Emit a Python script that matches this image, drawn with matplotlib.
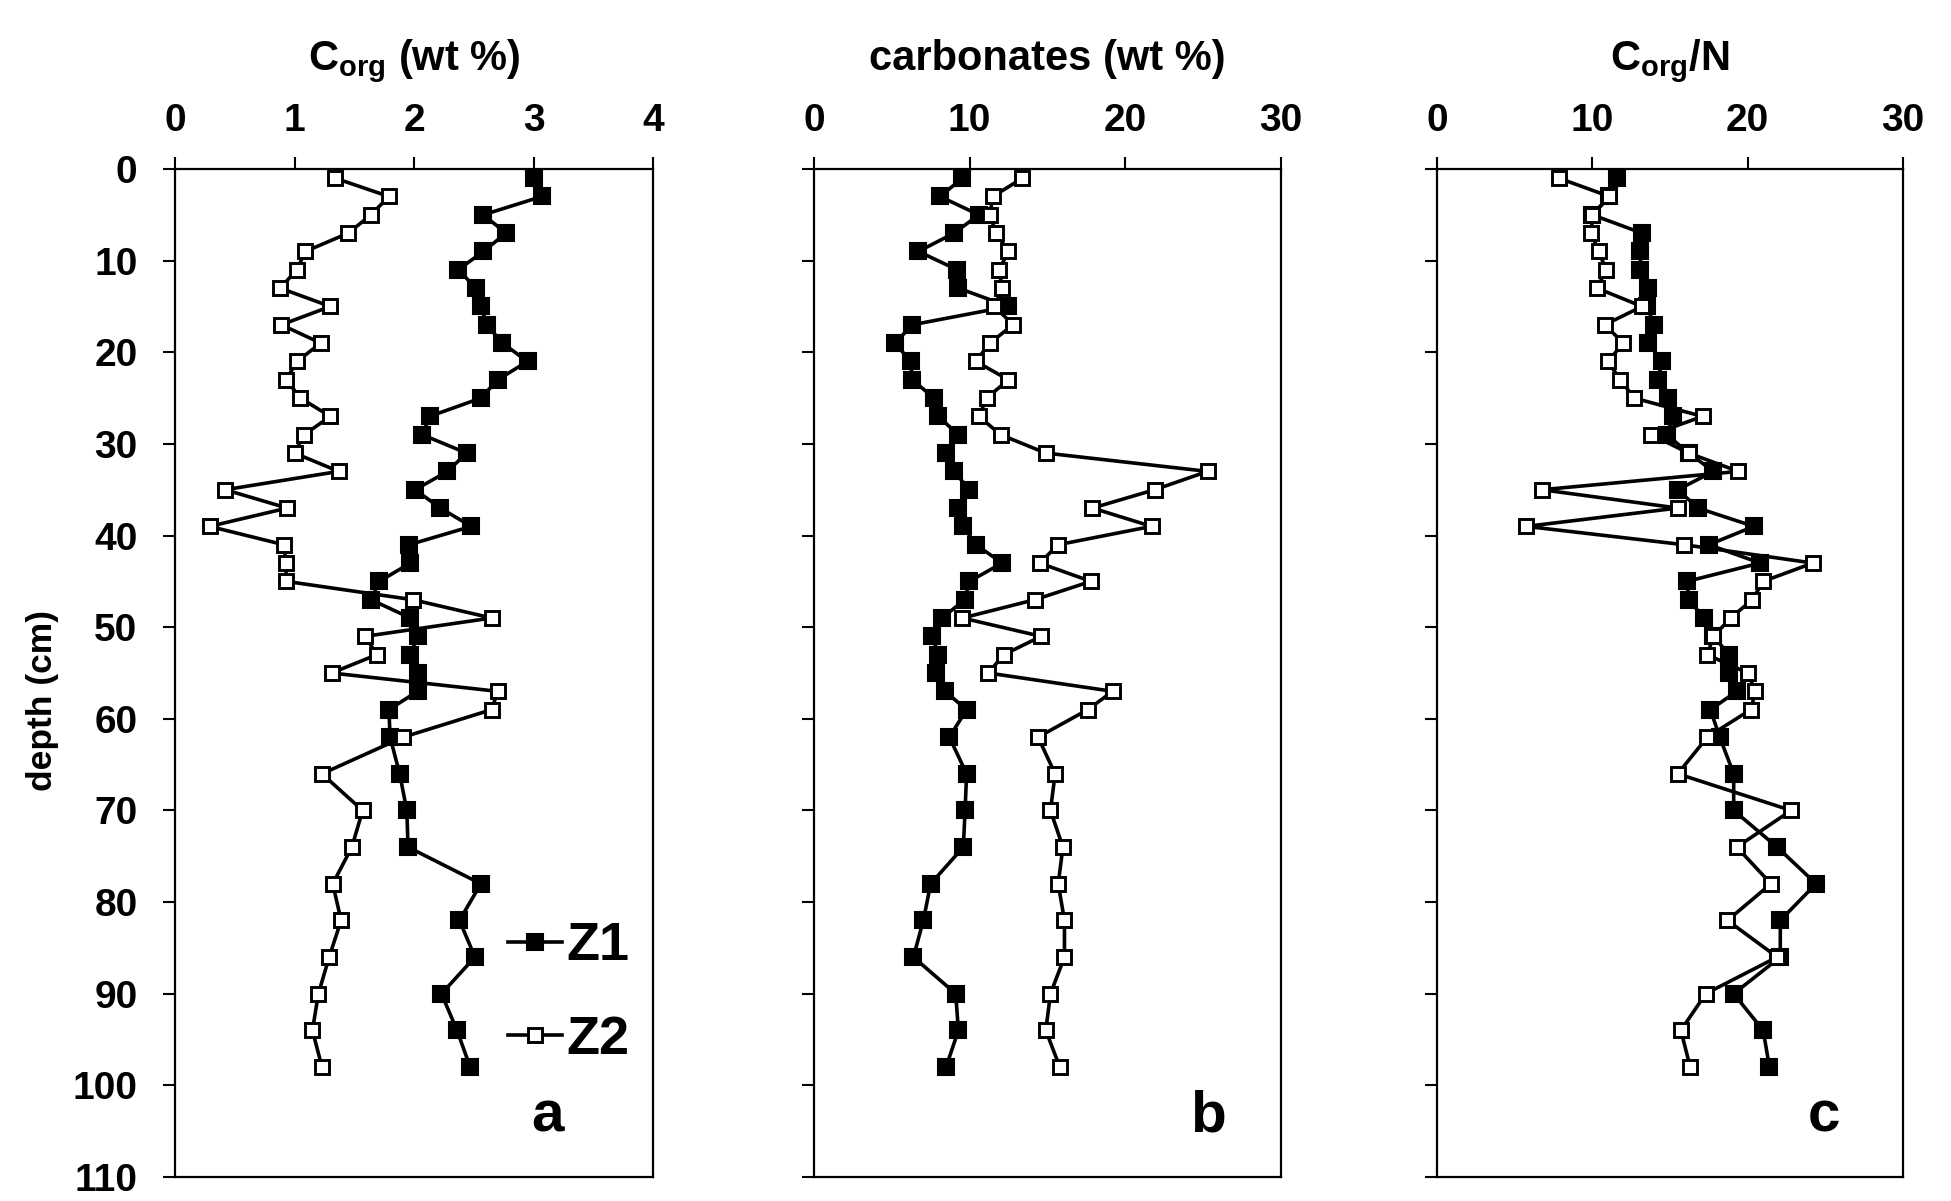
import matplotlib
matplotlib.use("Agg")
import matplotlib.pyplot as plt

# ---- core depth profiles (depth in cm) ----
depth = [1, 3, 5, 7, 9, 11, 13, 15, 17, 19, 21, 23, 25, 27, 29, 31, 33, 35, 37, 39,
         41, 43, 45, 47, 49, 51, 53, 55, 57, 59, 62, 66, 70, 74, 78, 82, 86, 90, 94, 98]

corg_z1 = [3.00, 3.07, 2.58, 2.77, 2.58, 2.37, 2.52, 2.56, 2.61, 2.74, 2.95, 2.70, 2.56, 2.13,
           2.07, 2.44, 2.28, 2.01, 2.22, 2.48, 1.96, 1.97, 1.71, 1.64, 1.97, 2.03, 1.97, 2.03,
           2.03, 1.79, 1.80, 1.88, 1.94, 1.95, 2.56, 2.38, 2.51, 2.23, 2.36, 2.47]
corg_z2 = [1.34, 1.79, 1.64, 1.45, 1.09, 1.02, 0.88, 1.30, 0.89, 1.22, 1.02, 0.93, 1.05, 1.30,
           1.08, 1.00, 1.37, 0.42, 0.94, 0.29, 0.91, 0.93, 0.93, 1.99, 2.65, 1.59, 1.69, 1.31,
           2.70, 2.65, 1.91, 1.23, 1.57, 1.48, 1.32, 1.39, 1.29, 1.20, 1.15, 1.23]

carb_z1 = [9.54, 8.10, 10.6, 9.0, 6.71, 9.21, 9.28, 12.5, 6.32, 5.21, 6.21, 6.32, 7.71, 7.99,
           9.28, 8.49, 9.0, 9.99, 9.28, 9.6, 10.4, 12.1, 9.99, 9.71, 8.21, 7.61, 7.99, 7.82,
           8.42, 9.81, 8.70, 9.81, 9.71, 9.6, 7.50, 7.03, 6.39, 9.11, 9.28, 8.49]
carb_z2 = [13.4, 11.5, 11.3, 11.7, 12.5, 11.9, 12.1, 11.6, 12.8, 11.3, 10.4, 12.5, 11.1, 10.6,
           12.0, 14.9, 25.3, 21.9, 17.9, 21.7, 15.7, 14.5, 17.8, 14.2, 9.54, 14.6, 12.2, 11.2,
           19.2, 17.6, 14.4, 15.5, 15.2, 16.0, 15.7, 16.1, 16.1, 15.2, 14.9, 15.8]

cn_z1 = [11.6, 11.1, 10.0, 13.2, 13.1, 13.1, 13.6, 13.5, 14.0, 13.6, 14.5, 14.2, 14.9, 15.2,
         14.8, 16.2, 17.8, 15.5, 16.8, 20.4, 17.5, 20.8, 16.1, 16.2, 17.2, 17.8, 18.8, 18.8,
         19.3, 17.6, 18.2, 19.1, 19.1, 21.9, 24.4, 22.1, 22.1, 19.1, 21.0, 21.4]
cn_z2 = [7.85, 11.1, 10.0, 9.94, 10.4, 10.9, 10.3, 13.2, 10.8, 12.0, 11.0, 11.8, 12.7, 17.1,
         13.8, 16.2, 19.4, 6.76, 15.5, 5.75, 15.9, 24.2, 21.0, 20.3, 18.9, 17.8, 17.4, 20.0,
         20.5, 20.2, 17.4, 15.5, 22.8, 19.3, 21.5, 18.7, 21.9, 17.3, 15.7, 16.3]

series_names = ["Z1", "Z2"]
panel_titles = ["C$_{org}$ (wt %)", "carbonates (wt %)", "C$_{org}$/N"]
panel_letters = ["a", "b", "c"]
x_limits = [(0, 4), (0, 30), (0, 30)]
x_ticks = [[0, 1, 2, 3, 4], [0, 10, 20, 30], [0, 10, 20, 30]]
y_ticks = list(range(0, 111, 10))
letter_x = [3.12, 25.3, 24.9]

plt.rcParams["font.family"] = ["Liberation Sans", "DejaVu Sans"]
plt.rcParams["font.weight"] = "bold"
plt.rcParams["mathtext.fontset"] = "custom"
plt.rcParams["mathtext.rm"] = "Liberation Sans:bold"
plt.rcParams["mathtext.it"] = "Liberation Sans:bold"
plt.rcParams["mathtext.bf"] = "Liberation Sans:bold"

fig = plt.figure(figsize=(19.51, 12.01), dpi=100)
W, H = 1951.0, 1201.0
top_px, bot_px = 169.0, 1177.0
lefts = [175.0, 814.0, 1437.0]
widths = [478.0, 466.7, 466.0]

profiles = [(corg_z1, corg_z2), (carb_z1, carb_z2), (cn_z1, cn_z2)]
for i in range(3):
    ax = fig.add_axes([lefts[i] / W, 1 - bot_px / H, widths[i] / W, (bot_px - top_px) / H])
    z1, z2 = profiles[i]
    l1, = ax.plot(z1, depth, color="black", lw=2.6, marker="s", ms=11.5,
                  mfc="black", mec="black", mew=1.5, label=series_names[0], clip_on=False)
    l2, = ax.plot(z2, depth, color="black", lw=2.6, marker="s", ms=10,
                  mfc="white", mec="black", mew=2.1, label=series_names[1], clip_on=False)
    ax.set_xlim(*x_limits[i])
    ax.set_ylim(110, 0)
    ax.set_xticks(x_ticks[i])
    ax.set_yticks(y_ticks)
    ax.xaxis.tick_top()
    ax.tick_params(axis="x", which="both", top=True, bottom=False, direction="out",
                   length=9, width=1.5, pad=12.5, labelsize=28)
    ax.tick_params(axis="y", which="both", left=True, right=False, direction="out",
                   length=9, width=1.5, pad=18, labelsize=28, labelleft=(i == 0))
    for sp in ax.spines.values():
        sp.set_linewidth(1.6)
    ax.text(0.5, 1 + (top_px - 70.0) / (bot_px - top_px), panel_titles[i],
            transform=ax.transAxes, ha="center", va="baseline", fontsize=30,
            fontweight="bold")
    ax.text(letter_x[i], 105, panel_letters[i], ha="center", va="baseline",
            fontsize=42, fontweight="bold")
    if i == 0:
        ax.set_ylabel("depth (cm)", fontsize=25.5, fontweight="bold")
        ax.yaxis.set_label_coords(-0.242, 0.473)
        ax.legend(handles=[l1, l2], loc="upper left", bbox_to_anchor=(0.697, 0.2535),
                  frameon=False, borderpad=0, borderaxespad=0, handlelength=1.0,
                  handletextpad=0.08, labelspacing=0.8, numpoints=1,
                  prop={"size": 39, "weight": "bold"})

fig.savefig("out.png", dpi=100, facecolor="white")
